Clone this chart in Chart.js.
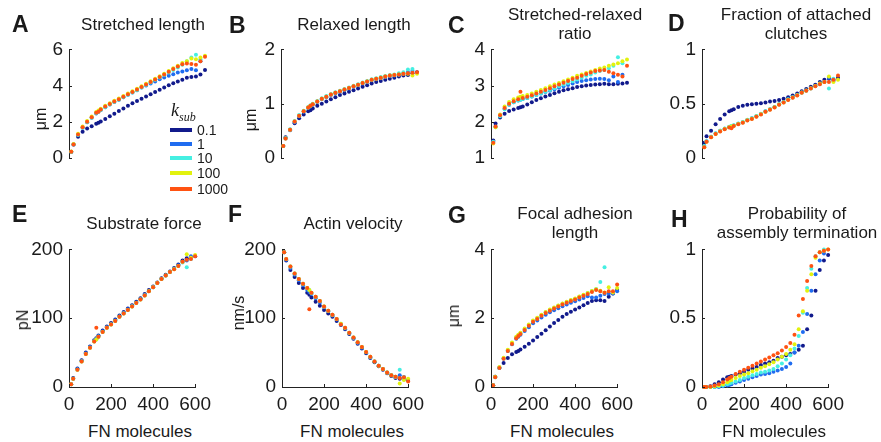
<!DOCTYPE html>
<html>
<head>
<meta charset="utf-8">
<script src="https://cdn.jsdelivr.net/npm/chart.js@4.4.1/dist/chart.umd.min.js"></script>
<style>
body { margin: 0; background: #fff; width: 881px; height: 442px; position: relative; overflow: hidden;
       font-family: "Liberation Sans", Arial, sans-serif; color: #1a1a1a; }
canvas { position: absolute; }
.lbl { position: absolute; white-space: nowrap; }
.letter { font-weight: bold; font-size: 23px; line-height: 23px; }
.title { font-size: 17px; line-height: 18.5px; text-align: center; transform: translateX(-50%); }
.ytitle { font-size: 16px; transform: translate(-50%, -50%) rotate(-90deg); }
.xtitle { font-size: 17px; transform: translate(-50%, -50%); }
.legline { position: absolute; width: 22px; height: 4px; }
.legtxt { font-size: 14px; transform: translateY(-50%); }
</style>
</head>
<body>
<script>
// FN molecules (x) shared by every panel
const fnMolecules = [10, 20, 40, 60, 80, 100, 120, 130, 140, 160, 180, 200, 220, 240, 260, 280, 300,
    320, 340, 360, 380, 400, 420, 440, 460, 480, 500, 520, 540, 560, 580, 600];
const kSub = ['0.1', '1', '10', '100', '1000'];
const kColors = ['#111a8c', '#1f6cf0', '#45efe2', '#e2f20e', '#ff5212'];
const xTicks = [0, 200, 400, 600];

// A - stretched length (um), one row per k_sub
const stretchedLength = [
    [0.35,0.75,1.18,1.45,1.63,1.76,1.89,1.95,2.02,2.16,2.31,2.45,2.59,2.74,2.88,3.02,3.15,3.27,3.4,3.52,3.65,3.77,3.9,4.02,4.13,4.23,4.33,4.43,4.48,4.5,4.62,4.86],
    [0.33,0.74,1.27,1.67,1.97,2.22,2.46,2.55,2.65,2.81,2.95,3.09,3.22,3.36,3.49,3.62,3.75,3.89,4.0,4.12,4.23,4.35,4.45,4.55,4.63,4.72,4.78,4.85,4.92,4.85,5.35,null],
    [0.33,0.74,1.27,1.67,1.97,2.22,2.47,2.56,2.65,2.81,2.95,3.09,3.22,3.36,3.49,3.62,3.75,3.89,4.03,4.17,4.31,4.45,4.58,4.72,4.86,5.0,5.15,5.35,5.55,5.7,5.45,null],
    [0.36,0.78,1.34,1.74,2.04,2.29,2.54,2.62,2.72,2.88,3.02,3.16,3.29,3.43,3.56,3.69,3.82,3.96,4.1,4.24,4.38,4.52,4.66,4.8,4.96,5.1,5.25,5.35,5.5,5.45,5.55,5.65],
    [0.35,0.75,1.3,1.7,2.0,2.25,2.5,2.55,2.68,2.84,2.98,3.12,3.25,3.39,3.52,3.65,3.78,3.92,4.06,4.2,4.34,4.48,4.62,4.76,4.92,5.06,5.18,5.22,5.2,5.15,5.35,5.6]
];
// B - relaxed length (um)
const relaxedLength = [
    [0.22,0.38,0.52,0.64,0.73,0.8,0.86,0.88,0.91,0.96,1.0,1.04,1.08,1.12,1.16,1.19,1.22,1.25,1.28,1.31,1.34,1.37,1.4,1.42,1.44,1.46,1.48,1.5,1.52,1.53,1.56,1.58],
    [0.22,0.36,0.51,0.66,0.77,0.85,0.92,0.95,0.98,1.03,1.08,1.12,1.16,1.19,1.22,1.25,1.28,1.31,1.34,1.37,1.4,1.43,1.45,1.47,1.49,1.51,1.52,1.53,1.55,1.58,1.6,null],
    [0.22,0.37,0.53,0.68,0.79,0.87,0.94,0.97,1.0,1.05,1.1,1.14,1.18,1.21,1.24,1.27,1.3,1.33,1.36,1.39,1.42,1.45,1.47,1.49,1.51,1.53,1.54,1.56,1.58,1.63,1.64,null],
    [0.22,0.36,0.52,0.67,0.78,0.86,0.93,0.96,0.99,1.04,1.09,1.13,1.17,1.2,1.23,1.26,1.29,1.32,1.35,1.38,1.41,1.44,1.46,1.48,1.5,1.52,1.53,1.54,1.55,1.55,1.52,1.55],
    [0.22,0.36,0.52,0.67,0.78,0.86,0.93,0.96,0.99,1.04,1.09,1.13,1.17,1.2,1.23,1.26,1.29,1.32,1.35,1.38,1.41,1.44,1.46,1.48,1.5,1.52,1.53,1.54,1.55,1.56,1.57,1.58]
];
// C - stretched-relaxed ratio
const stretchRatio = [
    [1.48,1.95,2.12,2.22,2.3,2.34,2.38,2.4,2.42,2.48,2.54,2.6,2.65,2.7,2.74,2.79,2.83,2.87,2.9,2.93,2.96,2.98,3.0,3.02,3.03,3.04,3.05,3.04,3.04,3.05,3.06,3.08],
    [1.45,1.87,2.16,2.36,2.47,2.54,2.59,2.61,2.63,2.66,2.7,2.74,2.78,2.82,2.86,2.9,2.94,2.98,3.02,3.06,3.1,3.13,3.15,3.17,3.18,3.19,3.18,3.15,3.25,3.1,3.3,null],
    [1.45,1.85,2.15,2.35,2.47,2.54,2.59,2.61,2.63,2.66,2.7,2.74,2.78,2.83,2.88,2.93,2.98,3.03,3.07,3.12,3.17,3.22,3.27,3.31,3.36,3.4,3.43,3.48,3.55,3.78,3.62,null],
    [1.4,1.85,2.2,2.42,2.55,2.62,2.67,2.69,2.71,2.74,2.78,2.83,2.88,2.93,2.98,3.03,3.07,3.12,3.17,3.22,3.27,3.31,3.35,3.39,3.43,3.47,3.5,3.55,3.58,3.62,3.67,3.72],
    [1.42,1.87,2.18,2.38,2.5,2.57,2.62,2.83,2.66,2.69,2.73,2.78,2.83,2.88,2.93,2.98,3.03,3.08,3.13,3.18,3.22,3.27,3.32,3.36,3.4,3.42,3.43,3.38,3.34,3.3,3.25,3.55]
];
// D - fraction of attached clutches
const attachedFraction = [
    [0.14,0.2,0.25,0.31,0.36,0.4,0.43,0.44,0.45,0.47,0.48,0.49,0.495,0.5,0.505,0.51,0.52,0.525,0.535,0.545,0.56,0.575,0.595,0.615,0.635,0.655,0.675,0.7,0.72,0.73,0.72,0.74],
    [0.11,0.155,0.195,0.225,0.25,0.27,0.285,0.293,0.3,0.315,0.33,0.35,0.365,0.385,0.405,0.43,0.45,0.47,0.495,0.515,0.54,0.56,0.58,0.605,0.625,0.645,0.665,0.685,0.7,0.74,0.71,null],
    [0.11,0.155,0.195,0.228,0.252,0.272,0.287,0.295,0.302,0.317,0.332,0.352,0.367,0.387,0.407,0.43,0.45,0.47,0.495,0.515,0.54,0.56,0.58,0.6,0.62,0.64,0.66,0.68,0.7,0.64,0.73,null],
    [0.1,0.15,0.19,0.222,0.247,0.267,0.282,0.29,0.297,0.312,0.327,0.347,0.362,0.382,0.402,0.427,0.447,0.467,0.492,0.512,0.537,0.557,0.577,0.602,0.622,0.642,0.662,0.685,0.7,0.75,0.7,0.72],
    [0.1,0.15,0.19,0.22,0.245,0.265,0.28,0.275,0.295,0.31,0.325,0.345,0.36,0.38,0.4,0.425,0.445,0.465,0.49,0.51,0.535,0.555,0.575,0.6,0.62,0.64,0.66,0.68,0.7,0.7,0.72,0.76]
];
// E - substrate force (pN)
const substrateForce = [
    [4,13,27,39,50,59,68,71,75,82,88,93,98,104,109,114,119,124,129,135,141,146,152,158,163,168,173,178,184,187,188,190],
    [4,12,26,38,49,58,67,70,74,81,87,92,97,103,108,113,118,123,128,134,140,145,151,157,162,167,172,177,182,184,190,null],
    [4,12,25,37,48,57,66,69,73,80,86,91,96,102,107,112,117,122,127,133,139,145,151,157,162,167,172,176,181,174,186,null],
    [4,12,25,37,48,57,66,69,73,80,86,91,96,102,107,112,117,122,127,133,139,145,151,157,162,167,171,176,182,193,188,192],
    [4,12,25,37,48,57,66,86,73,80,86,91,96,102,107,112,117,122,127,133,139,145,151,157,162,167,171,176,182,185,186,190]
];
// F - actin velocity (nm/s)
const actinVelocity = [
    [196,184,170,160,151,144,137,134,130,124,118,112,107,102,96,90,84,77,70,63,56,49,42,36,30,25,20,16,13,12,14,10],
    [196,185,173,163,155,148,141,138,135,129,123,116,110,104,98,91,85,78,71,64,57,50,43,37,31,26,21,17,14,17,11,null],
    [196,186,175,165,157,150,144,141,137,131,125,117,111,105,99,92,86,79,72,65,58,51,44,37,31,26,21,17,15,25,14,null],
    [196,186,175,165,157,150,144,141,137,131,125,117,111,105,99,92,86,79,72,65,58,51,44,37,31,26,21,17,15,5,10,12],
    [196,186,175,165,157,150,144,113,137,131,125,117,111,105,99,91,86,79,72,65,58,51,44,37,31,26,21,17,15,13,14,8]
];
// G - focal adhesion length (um)
const adhesionLength = [
    [0.05,0.3,0.55,0.7,0.84,0.95,1.02,1.05,1.09,1.17,1.26,1.35,1.45,1.55,1.65,1.76,1.86,1.95,2.04,2.12,2.19,2.25,2.31,2.38,2.44,2.5,2.52,2.52,2.5,2.62,2.72,2.82],
    [0.05,0.3,0.57,0.83,1.05,1.24,1.4,1.46,1.52,1.63,1.74,1.85,1.93,2.02,2.1,2.17,2.23,2.29,2.35,2.4,2.45,2.49,2.54,2.59,2.64,2.6,2.6,2.65,2.7,2.72,2.72,2.78],
    [0.05,0.28,0.55,0.83,1.07,1.27,1.44,1.5,1.56,1.68,1.8,1.92,2.0,2.09,2.17,2.24,2.3,2.36,2.42,2.47,2.52,2.56,2.62,2.67,2.73,2.79,2.85,3.05,3.48,null,null,null],
    [0.05,0.3,0.58,0.85,1.08,1.29,1.46,1.52,1.58,1.7,1.82,1.93,2.01,2.1,2.18,2.25,2.31,2.37,2.43,2.48,2.53,2.57,2.63,2.68,2.73,2.79,2.84,2.8,2.75,2.9,2.75,2.88],
    [0.05,0.28,0.55,0.82,1.05,1.25,1.42,1.48,1.54,1.66,1.78,1.9,1.98,2.07,2.15,2.22,2.28,2.34,2.4,2.45,2.5,2.54,2.6,2.65,2.7,2.76,2.82,2.78,2.74,2.78,2.78,2.98]
];
// H - probability of assembly termination
const terminationProb = [
    [0,0,0.005,0.02,0.035,0.055,0.07,0.075,0.08,0.09,0.1,0.11,0.125,0.135,0.145,0.16,0.17,0.18,0.19,0.21,0.22,0.23,0.24,0.25,0.27,0.3,0.42,0.52,0.7,0.85,0.92,0.96],
    [0,0,0,0,0,0.005,0.01,0.015,0.02,0.03,0.04,0.05,0.06,0.07,0.08,0.09,0.095,0.1,0.11,0.12,0.13,0.145,0.17,0.25,0.3,0.4,0.53,0.7,0.82,0.92,0.97,null],
    [0,0,0,0,0.005,0.01,0.02,0.025,0.03,0.04,0.05,0.065,0.075,0.085,0.095,0.105,0.11,0.12,0.13,0.15,0.17,0.2,0.23,0.28,0.37,0.54,0.72,0.86,0.95,0.98,1.0,null],
    [0,0,0,0.005,0.01,0.02,0.035,0.045,0.05,0.065,0.08,0.09,0.1,0.115,0.125,0.14,0.15,0.165,0.18,0.2,0.22,0.24,0.27,0.31,0.42,0.55,0.7,0.82,0.94,0.98,0.99,1.0],
    [0,0,0.003,0.01,0.02,0.035,0.055,0.065,0.075,0.095,0.11,0.125,0.14,0.155,0.17,0.185,0.2,0.215,0.23,0.245,0.265,0.29,0.32,0.38,0.52,0.64,0.77,0.88,0.95,0.98,0.99,1.0]
];

// y tick labels
const ticksStretched = [0, 2, 4, 6];
const ticksRelaxed = [0, 1, 2];
const ticksRatio = [1, 2, 3, 4];
const ticksFraction = [0, 0.5, 1];
const ticksForce = [0, 100, 200];
const ticksVelocity = [0, 100, 200];
const ticksAdhesion = [0, 2, 4];
const ticksProb = [0, 0.5, 1];

const panels = [
    { letter: 'A', title: ['Stretched length'], unit: 'μm', data: stretchedLength, ticks: ticksStretched,
      ax: 69, top: 44, bottom: 188, letterPos: [12, 13], titleX: 143, titleY: 16, unitPos: [41, 119] },
    { letter: 'B', title: ['Relaxed length'], unit: 'μm', data: relaxedLength, ticks: ticksRelaxed,
      ax: 281, top: 44, bottom: 188, letterPos: [229, 14], titleX: 354, titleY: 16, unitPos: [251, 120] },
    { letter: 'C', title: ['Stretched-relaxed', 'ratio'], unit: '', data: stretchRatio, ticks: ticksRatio,
      ax: 491, top: 44, bottom: 188, letterPos: [448, 14], titleX: 575, titleY: 6 },
    { letter: 'D', title: ['Fraction of attached', 'clutches'], unit: '', data: attachedFraction, ticks: ticksFraction,
      ax: 702, top: 44, bottom: 188, letterPos: [668, 12], titleX: 796, titleY: 6 },
    { letter: 'E', title: ['Substrate force'], unit: 'pN', data: substrateForce, ticks: ticksForce,
      ax: 69, top: 244, bottom: 387, letterPos: [12, 203], titleX: 144, titleY: 215, unitPos: [23, 320], xlab: 140 },
    { letter: 'F', title: ['Actin velocity'], unit: 'nm/s', data: actinVelocity, ticks: ticksVelocity,
      ax: 282, top: 244, bottom: 387, letterPos: [228, 203], titleX: 353, titleY: 215, unitPos: [239, 313], xlab: 352 },
    { letter: 'G', title: ['Focal adhesion', 'length'], unit: 'μm', data: adhesionLength, ticks: ticksAdhesion,
      ax: 491, top: 244, bottom: 387, letterPos: [448, 204], titleX: 575, titleY: 205, unitPos: [454, 316], xlab: 562 },
    { letter: 'H', title: ['Probability of', 'assembly termination'], unit: '', data: terminationProb, ticks: ticksProb,
      ax: 702, top: 244, bottom: 387, letterPos: [671, 208], titleX: 797, titleY: 205, xlab: 774 }
];

const PLOT_W = 136, YW = 60, PAD_T = 12, PAD_R = 12;

function addLabel(cls, html, x, y) {
    const d = document.createElement('div');
    d.className = 'lbl ' + cls;
    d.innerHTML = html;
    d.style.left = x + 'px';
    d.style.top = y + 'px';
    document.body.appendChild(d);
    return d;
}

// matlab-like inward tick marks
const inwardTicks = {
    id: 'inwardTicks',
    afterDraw(chart) {
        const { ctx, chartArea: a, scales } = chart;
        ctx.save();
        ctx.strokeStyle = '#222';
        ctx.lineWidth = 1;
        scales.y.ticks.forEach(t => {
            const y = Math.round(scales.y.getPixelForValue(t.value)) + 0.5;
            ctx.beginPath(); ctx.moveTo(a.left, y); ctx.lineTo(a.left + 3, y); ctx.stroke();
        });
        if (scales.x.options.display) {
            scales.x.ticks.forEach(t => {
                const x = Math.round(scales.x.getPixelForValue(t.value)) + 0.5;
                ctx.beginPath(); ctx.moveTo(x, a.bottom); ctx.lineTo(x, a.bottom - 3); ctx.stroke();
            });
        }
        ctx.restore();
    }
};

panels.forEach(p => {
    const bottomRow = p.top > 200;
    const plotH = p.bottom - p.top;
    const canvas = document.createElement('canvas');
    canvas.width = YW + PLOT_W + PAD_R;
    canvas.height = PAD_T + plotH + (bottomRow ? 30 : 6);
    canvas.style.left = (p.ax - YW) + 'px';
    canvas.style.top = (p.top - PAD_T) + 'px';
    document.body.appendChild(canvas);

    const datasets = p.data.map((vals, i) => ({
        label: kSub[i],
        data: fnMolecules.map((x, j) => ({ x: x, y: vals[j] })),
        backgroundColor: kColors[i],
        borderWidth: 0,
        pointRadius: 2,
        order: 4 - i,
        clip: false
    }));

    new Chart(canvas.getContext('2d'), {
        type: 'scatter',
        data: { datasets: datasets },
        options: {
            responsive: false,
            animation: false,
            layout: { padding: { top: PAD_T, right: PAD_R, left: 0, bottom: bottomRow ? 0 : 6 } },
            plugins: { legend: { display: false }, tooltip: { enabled: false } },
            scales: {
                x: {
                    type: 'linear', min: 0, max: 600, display: bottomRow,
                    grid: { display: false, drawTicks: false },
                    border: { display: true, color: '#222', width: 1 },
                    ticks: { color: '#1a1a1a', font: { family: 'Liberation Sans', size: 19 }, padding: 6, maxRotation: 0,
                             callback: v => String(v) },
                    afterBuildTicks: s => { s.ticks = xTicks.map(v => ({ value: v })); },
                    afterFit: s => { s.height = 30; }
                },
                y: {
                    type: 'linear', min: p.ticks[0], max: p.ticks[p.ticks.length - 1],
                    grid: { display: false, drawTicks: false },
                    border: { display: true, color: '#222', width: 1 },
                    ticks: { color: '#1a1a1a', font: { family: 'Liberation Sans', size: 19 }, padding: 6,
                             callback: v => String(v) },
                    afterBuildTicks: s => { s.ticks = p.ticks.map(v => ({ value: v })); },
                    afterFit: s => { s.width = YW; }
                }
            }
        },
        plugins: [inwardTicks]
    });

    addLabel('letter', p.letter, p.letterPos[0], p.letterPos[1]);
    addLabel('title', p.title.join('<br>'), p.titleX, p.titleY);
    if (p.unit) addLabel('ytitle', p.unit, p.unitPos[0], p.unitPos[1]);
    if (p.xlab) addLabel('xtitle', 'FN molecules', p.xlab, 432);
});

// k_sub legend inside panel A
addLabel('', '<span style="font-family:\'Liberation Serif\',serif;font-style:italic;font-size:18px">k<sub style="font-size:12px">sub</sub></span>', 171, 100);
const legendY = [130, 143.5, 157.5, 173, 189];
kSub.forEach((k, i) => {
    const line = document.createElement('div');
    line.className = 'legline';
    line.style.left = '170px';
    line.style.top = (legendY[i] - 2) + 'px';
    line.style.background = kColors[i];
    document.body.appendChild(line);
    addLabel('legtxt', k, 197, legendY[i]);
});
</script>
</body>
</html>
